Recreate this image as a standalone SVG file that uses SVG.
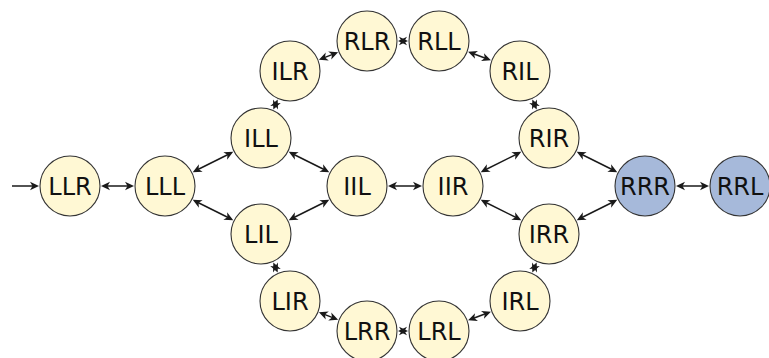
<svg xmlns="http://www.w3.org/2000/svg" width="769" height="358" viewBox="0 0 769 358">
<defs>
<marker id="ah" viewBox="-11 -6 12 12" refX="-3" refY="0" markerWidth="12" markerHeight="12" markerUnits="userSpaceOnUse" orient="auto-start-reverse">
<path d="M0,0 L-9,-4.2 L-6.5,0 L-9,4.2 Z" fill="#1a1a1a"/>
</marker>
</defs>
<style>
.n circle{fill:#FFF8D4;stroke:#333;stroke-width:1.1}
.n.b circle{fill:#A6B9DA}
.n text{font-family:"DejaVu Sans",sans-serif;font-size:24px;text-anchor:middle;fill:#111}
#edges line{stroke:#1a1a1a;stroke-width:1.5;marker-end:url(#ah)}
#edges line.d{marker-start:url(#ah)}
</style>
<rect width="769" height="358" fill="#fff"/>
<g id="edges">
<line x1="12" y1="186" x2="36" y2="186"/>
<line class="d" x1="104" y1="186" x2="131" y2="186"/>
<line class="d" x1="195.41" y1="170.79" x2="230.59" y2="153.21"/>
<line class="d" x1="195.41" y1="201.21" x2="230.59" y2="218.79"/>
<line class="d" x1="274.51" y1="106.79" x2="276.49" y2="102.21"/>
<line class="d" x1="321.68" y1="58.66" x2="335.32" y2="53.34"/>
<line class="d" x1="401" y1="41" x2="405" y2="41"/>
<line class="d" x1="470.88" y1="52.81" x2="488.12" y2="59.19"/>
<line class="d" x1="533.51" y1="102.21" x2="535.49" y2="106.79"/>
<line class="d" x1="291.41" y1="153.21" x2="326.59" y2="170.79"/>
<line class="d" x1="291.41" y1="218.79" x2="326.59" y2="201.21"/>
<line class="d" x1="391" y1="186" x2="419" y2="186"/>
<line class="d" x1="483.41" y1="170.79" x2="518.59" y2="153.21"/>
<line class="d" x1="483.41" y1="201.21" x2="518.59" y2="218.79"/>
<line class="d" x1="274.51" y1="265.21" x2="276.49" y2="269.79"/>
<line class="d" x1="321.68" y1="313.34" x2="335.32" y2="318.66"/>
<line class="d" x1="401" y1="331" x2="405" y2="331"/>
<line class="d" x1="470.88" y1="319.19" x2="488.12" y2="312.81"/>
<line class="d" x1="533.51" y1="269.79" x2="535.49" y2="265.21"/>
<line class="d" x1="579.41" y1="153.21" x2="614.59" y2="170.79"/>
<line class="d" x1="579.41" y1="218.79" x2="614.59" y2="201.21"/>
<line class="d" x1="679" y1="186" x2="706" y2="186"/>
</g>
<g id="LLR" class="n"><circle cx="70" cy="186" r="30"/><text x="70" y="195">LLR</text></g>
<g id="LLL" class="n"><circle cx="165" cy="186" r="30"/><text x="165" y="195">LLL</text></g>
<g id="ILL" class="n"><circle cx="261" cy="138" r="30"/><text x="261" y="147">ILL</text></g>
<g id="LIL" class="n"><circle cx="261" cy="234" r="30"/><text x="261" y="243">LIL</text></g>
<g id="ILR" class="n"><circle cx="290" cy="71" r="30"/><text x="290" y="80">ILR</text></g>
<g id="LIR" class="n"><circle cx="290" cy="301" r="30"/><text x="290" y="310">LIR</text></g>
<g id="RLR" class="n"><circle cx="367" cy="41" r="30"/><text x="367" y="50">RLR</text></g>
<g id="LRR" class="n"><circle cx="367" cy="331" r="30"/><text x="367" y="340">LRR</text></g>
<g id="RLL" class="n"><circle cx="439" cy="41" r="30"/><text x="439" y="50">RLL</text></g>
<g id="LRL" class="n"><circle cx="439" cy="331" r="30"/><text x="439" y="340">LRL</text></g>
<g id="RIL" class="n"><circle cx="520" cy="71" r="30"/><text x="520" y="80">RIL</text></g>
<g id="IRL" class="n"><circle cx="520" cy="301" r="30"/><text x="520" y="310">IRL</text></g>
<g id="RIR" class="n"><circle cx="549" cy="138" r="30"/><text x="549" y="147">RIR</text></g>
<g id="IRR" class="n"><circle cx="549" cy="234" r="30"/><text x="549" y="243">IRR</text></g>
<g id="IIL" class="n"><circle cx="357" cy="186" r="30"/><text x="357" y="195">IIL</text></g>
<g id="IIR" class="n"><circle cx="453" cy="186" r="30"/><text x="453" y="195">IIR</text></g>
<g id="RRR" class="n b"><circle cx="645" cy="186" r="30"/><text x="645" y="195">RRR</text></g>
<g id="RRL" class="n b"><circle cx="740" cy="186" r="30"/><text x="740" y="195">RRL</text></g>
</svg>
